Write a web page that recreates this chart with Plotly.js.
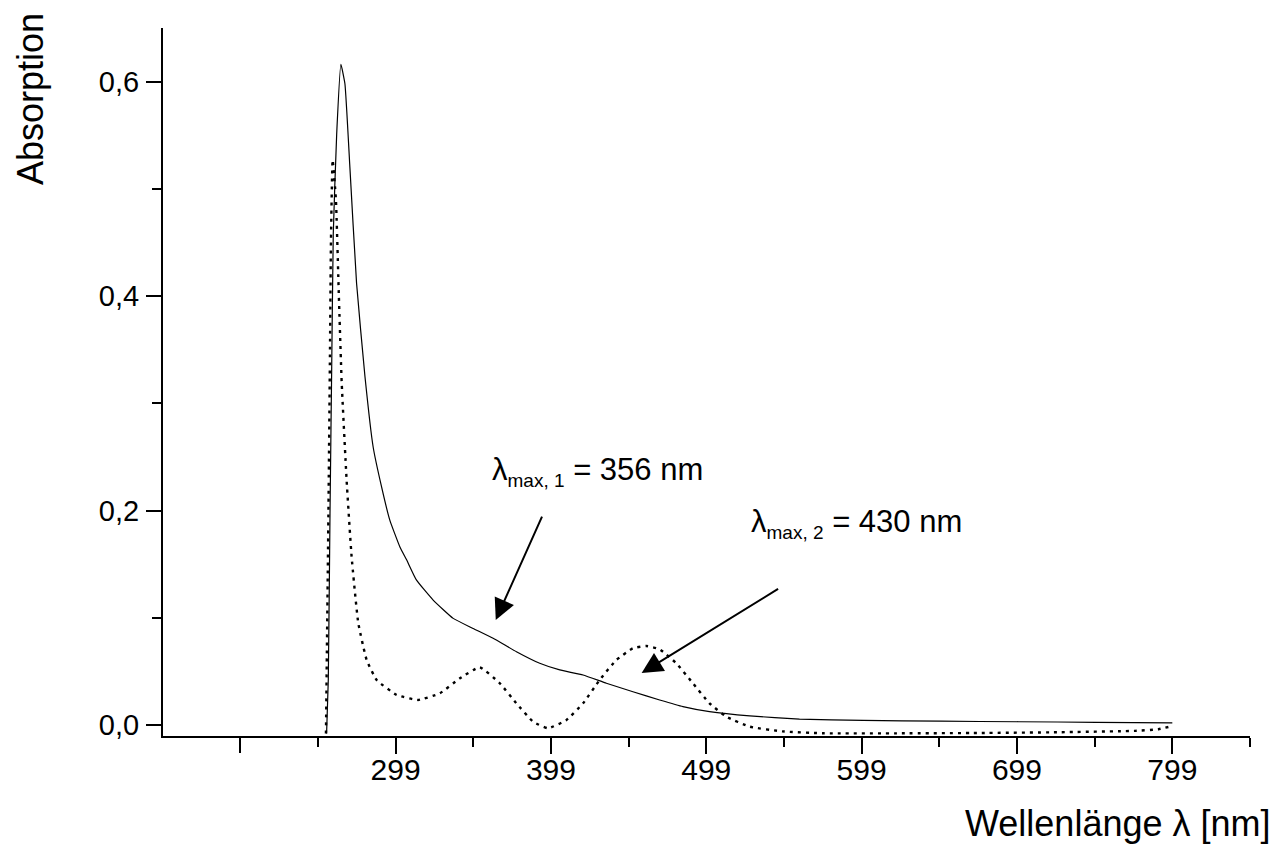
<!DOCTYPE html>
<html>
<head>
<meta charset="utf-8">
<script src="https://cdn.plot.ly/plotly-3.0.1.min.js"></script>
<style>
html, body { margin: 0; padding: 0; background: #ffffff; }
#chart { width: 1277px; height: 857px; }
</style>
</head>
<body>
<div id="chart"></div>
<script>
// Solid spectrum (wavelength nm, absorption)
const solidWavelength = [254.6, 255.7, 256.8, 257.9, 258.9, 261.1, 263.8, 266.4, 269.6, 273.9, 279.3, 284.6, 290.0, 295.3, 301.8, 306.1, 312.5, 323.2, 336.1, 348.9, 361.8, 376.8, 391.8, 404.7, 419.7, 434.7, 451.8, 469.0, 484.0, 501.1, 527.0, 559.0, 600.0, 650.0, 700.0, 750.0, 799.0];
const solidAbsorption = [-0.008, 0.042, 0.197, 0.334, 0.458, 0.551, 0.616, 0.598, 0.520, 0.412, 0.325, 0.259, 0.222, 0.191, 0.166, 0.154, 0.135, 0.1165, 0.0994, 0.090, 0.0808, 0.0683, 0.0575, 0.0513, 0.0466, 0.0389, 0.031, 0.0233, 0.0171, 0.0124, 0.0084, 0.0055, 0.0042, 0.0035, 0.003, 0.0025, 0.002];

// Dotted spectrum
const dottedWavelength = [254.2, 255.8, 256.8, 257.4, 258.5, 260.6, 262.5, 264.3, 267.5, 270.7, 275.0, 280.4, 286.8, 299.7, 313.5, 327.5, 340.4, 353.2, 366.1, 376.8, 387.5, 397.2, 409.0, 419.7, 430.4, 441.1, 451.8, 460.4, 469.0, 479.7, 490.4, 501.1, 511.9, 527.0, 548.0, 575.0, 625.0, 675.0, 725.0, 775.0, 790.0, 799.0];
const dottedAbsorption = [-0.008, 0.2, 0.35, 0.45, 0.527, 0.49, 0.40, 0.32, 0.228, 0.157, 0.095, 0.0606, 0.042, 0.028, 0.0233, 0.0295, 0.0435, 0.0538, 0.0389, 0.0202, 0.0031, -0.0031, 0.0047, 0.0202, 0.042, 0.0606, 0.0715, 0.0736, 0.0705, 0.0575, 0.0389, 0.0202, 0.0077, -0.0016, -0.006, -0.0078, -0.0078, -0.0075, -0.0068, -0.0055, -0.004, -0.001];

// Tick definitions
const xLabelledTicks = [299, 399, 499, 599, 699, 799];
const xLabels = ["299", "399", "499", "599", "699", "799"];
const xUnlabelledMajorTicks = [199];
const xMinorTicks = [149, 249, 349, 449, 549, 649, 749, 849];
const yMajorTicks = [0.0, 0.2, 0.4, 0.6];
const yMajorLabels = ["0,0", "0,2", "0,4", "0,6"];
const yMinorTicks = [0.1, 0.3, 0.5];

const FONT = "Liberation Sans, Arial, Helvetica, sans-serif";

const traces = [
  {
    x: solidWavelength, y: solidAbsorption, type: "scatter", mode: "lines",
    line: { color: "#000000", width: 1.2, shape: "spline", smoothing: 0.4 },
    showlegend: false, hoverinfo: "skip"
  },
  {
    x: dottedWavelength, y: dottedAbsorption, type: "scatter", mode: "lines",
    line: { color: "#000000", width: 2.4, dash: "3px,5px", shape: "spline", smoothing: 0.4 },
    showlegend: false, hoverinfo: "skip"
  },
  {
    // invisible helper so the overlay axis carrying the unlabelled 199 tick is drawn
    x: xUnlabelledMajorTicks, y: [null], xaxis: "x2", yaxis: "y", type: "scatter", mode: "markers",
    marker: { opacity: 0 }, showlegend: false, hoverinfo: "skip"
  }
];

const layout = {
  width: 1277, height: 857,
  margin: { l: 163, r: 27, t: 28, b: 121 },
  paper_bgcolor: "#ffffff", plot_bgcolor: "#ffffff",
  font: { family: FONT, color: "#000000", size: 27 },
  showlegend: false,
  xaxis: {
    range: [149.3, 849],
    showgrid: false, zeroline: false,
    showline: true, linecolor: "#000000", linewidth: 2,
    tickmode: "array", tickvals: xLabelledTicks, ticktext: xLabels,
    ticks: "outside", ticklen: 16, tickwidth: 2, tickcolor: "#000000",
    tickfont: { family: FONT, size: 30, color: "#000000" },
    ticklabelstandoff: -10,
    minor: { tickmode: "array", tickvals: xMinorTicks, ticks: "outside", ticklen: 9, tickwidth: 2, tickcolor: "#000000", showgrid: false }
  },
  xaxis2: {
    overlaying: "x", anchor: "y", side: "bottom",
    range: [149.3, 849],
    showgrid: false, zeroline: false, showline: false, showticklabels: false,
    tickmode: "array", tickvals: xUnlabelledMajorTicks,
    ticks: "outside", ticklen: 16, tickwidth: 2, tickcolor: "#000000"
  },
  yaxis: {
    range: [-0.0103, 0.65],
    showgrid: false, zeroline: false,
    showline: true, linecolor: "#000000", linewidth: 2,
    tickmode: "array", tickvals: yMajorTicks, ticktext: yMajorLabels,
    ticks: "outside", ticklen: 15, tickwidth: 2, tickcolor: "#000000",
    tickfont: { family: FONT, size: 29, color: "#000000" },
    ticklabelstandoff: 1,
    minor: { tickmode: "array", tickvals: yMinorTicks, ticks: "outside", ticklen: 9, tickwidth: 2, tickcolor: "#000000", showgrid: false }
  },
  annotations: [
    { xref: "paper", yref: "paper", x: 1.0212, y: -0.1229, xanchor: "right", yanchor: "middle",
      text: "Wellenlänge λ [nm]", showarrow: false, font: { family: FONT, size: 36, color: "#000000" } },
    { xref: "paper", yref: "paper", x: -0.1224, y: 0.8997, xanchor: "center", yanchor: "middle",
      text: "Absorption", textangle: -90, showarrow: false, font: { family: FONT, size: 36, color: "#000000" } },
    { xref: "x", yref: "y", x: 359.6, y: 0.2367, xanchor: "left", yanchor: "middle",
      text: "λ<sub><span style='font-size:19px'>max, 1</span></sub> = 356 nm", showarrow: false, font: { family: FONT, size: 31, color: "#000000" } },
    { xref: "x", yref: "y", x: 526.2, y: 0.188, xanchor: "left", yanchor: "middle",
      text: "λ<sub><span style='font-size:19px'>max, 2</span></sub> = 430 nm", showarrow: false, font: { family: FONT, size: 31, color: "#000000" } },
    { xref: "x", yref: "y", axref: "x", ayref: "y", x: 363.5, y: 0.0979, ax: 393.7, ay: 0.1957,
      text: "", showarrow: true, arrowhead: 2, arrowsize: 2.1, arrowwidth: 2, arrowcolor: "#000000", standoff: 0 },
    { xref: "x", yref: "y", axref: "x", ayref: "y", x: 457.4, y: 0.0485, ax: 546.2, ay: 0.1277,
      text: "", showarrow: true, arrowhead: 2, arrowsize: 2.1, arrowwidth: 2, arrowcolor: "#000000", standoff: 0 }
  ]
};

Plotly.newPlot("chart", traces, layout, { staticPlot: true, displayModeBar: false });
</script>
</body>
</html>
